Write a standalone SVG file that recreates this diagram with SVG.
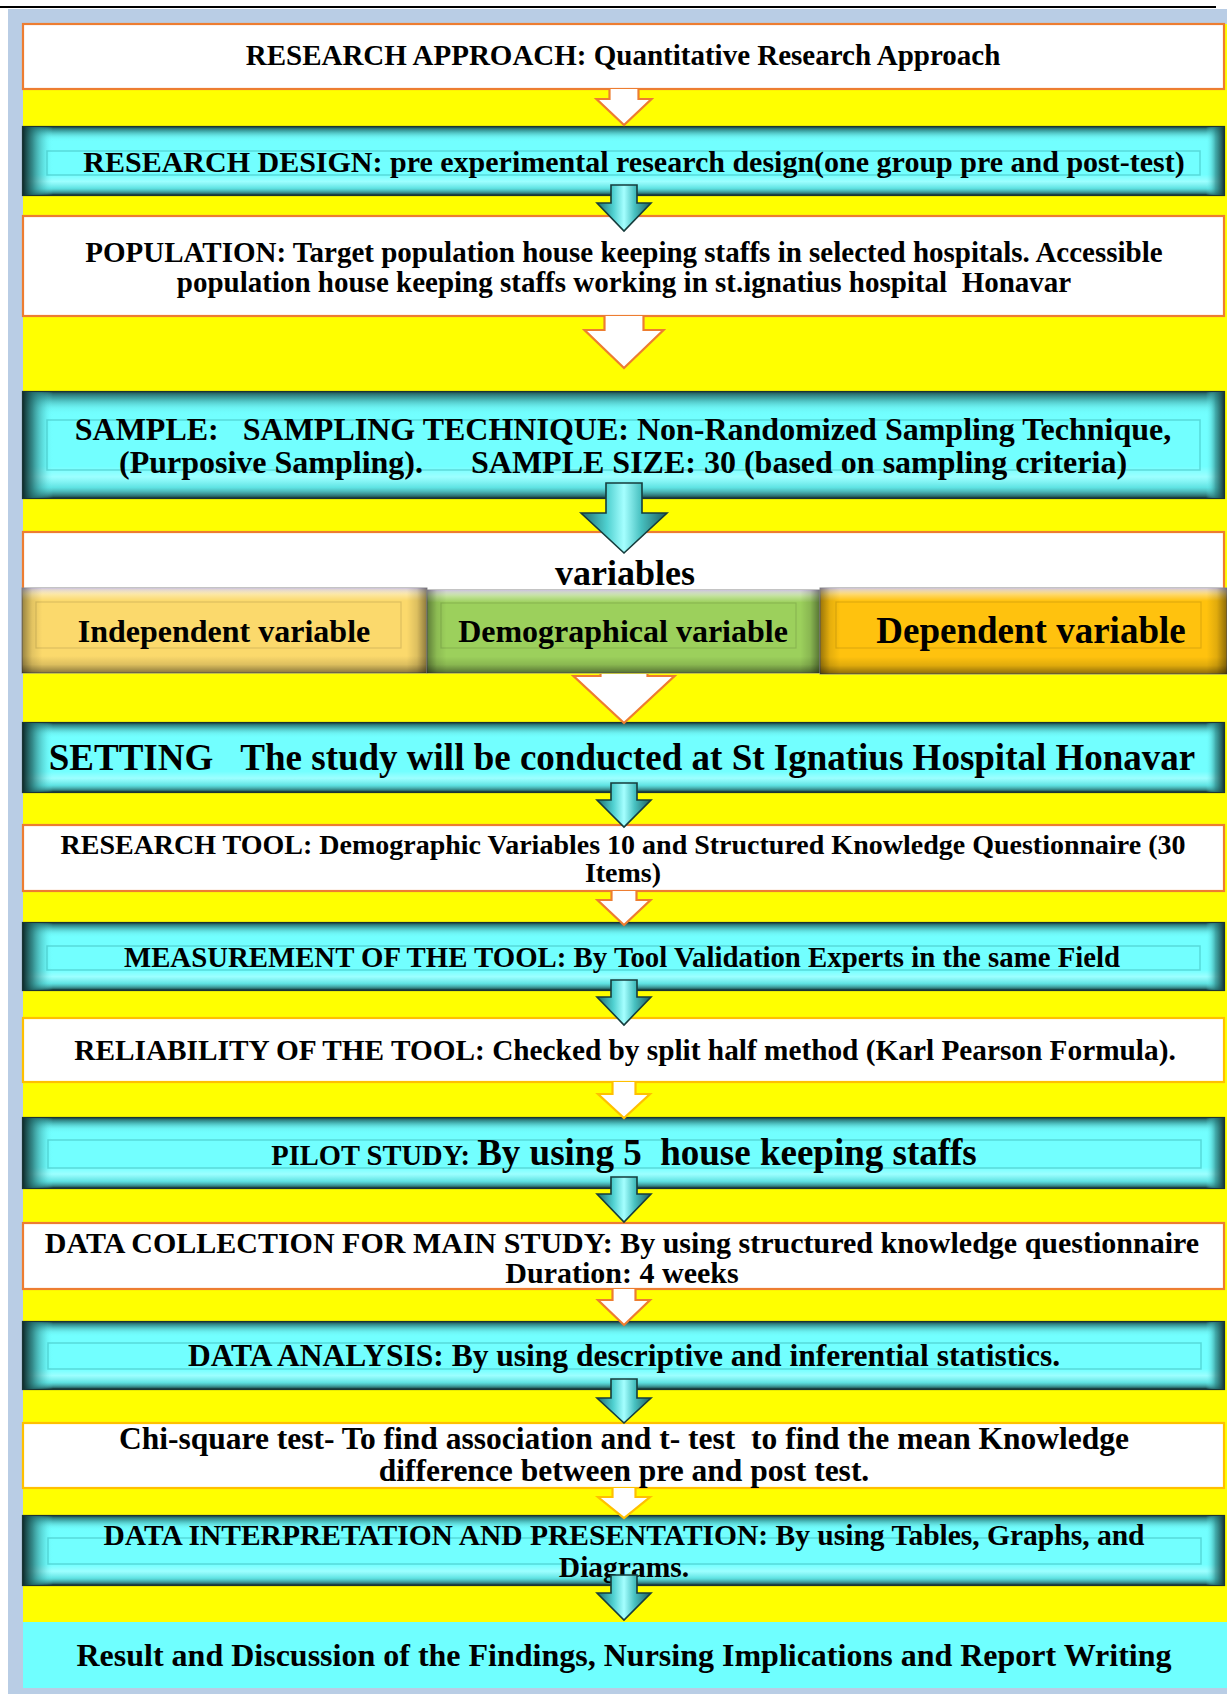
<svg xmlns="http://www.w3.org/2000/svg" width="1227" height="1694" viewBox="0 0 1227 1694">
<style>
.t{font-family:"Liberation Serif","Times New Roman",serif;font-weight:bold;fill:#000;text-anchor:middle}
.wb{fill:#fff;stroke:#ED7D31;stroke-width:2.2}
.wg{fill:#fff;stroke:#FFC000;stroke-width:2.2}
.cy{fill:#72FFFF;stroke:#1b3434;stroke-width:2.2}
.cyv{fill:url(#cyV)}
.cyh{fill:url(#cyH)}
.cyi{fill:none;stroke:#3fbcbc;stroke-opacity:.55;stroke-width:1.5}
.bvv{fill:url(#bvV)}
.bvh{fill:url(#bvH)}
.bvi{fill:none;stroke:#000;stroke-opacity:.12;stroke-width:1.2}
.ca{fill:url(#arG);stroke:#163c3c;stroke-width:1.6;stroke-linejoin:miter}
.wa{fill:#fff;stroke:#ED7D31;stroke-width:2.2;stroke-linejoin:miter}
.wag{fill:#fff;stroke:#FFC000;stroke-width:2.2;stroke-linejoin:miter}
</style>
<defs>
<linearGradient id="cyV" x1="0" y1="0" x2="0" y2="1">
<stop offset="0" stop-color="#1d4f4f" stop-opacity="0.95"/>
<stop offset="0.06" stop-color="#2f8a8a" stop-opacity="0.75"/>
<stop offset="0.15" stop-color="#5fd6d6" stop-opacity="0.3"/>
<stop offset="0.22" stop-color="#70ffff" stop-opacity="0"/>
<stop offset="0.7" stop-color="#ffffff" stop-opacity="0"/>
<stop offset="0.8" stop-color="#ffffff" stop-opacity="0.3"/>
<stop offset="0.9" stop-color="#3fb0b0" stop-opacity="0.35"/>
<stop offset="1" stop-color="#173c3c" stop-opacity="0.95"/>
</linearGradient>
<linearGradient id="cyH" x1="0" y1="0" x2="1" y2="0">
<stop offset="0" stop-color="#102e2e" stop-opacity="1"/>
<stop offset="0.008" stop-color="#256f6f" stop-opacity="0.8"/>
<stop offset="0.018" stop-color="#3fb0b0" stop-opacity="0.3"/>
<stop offset="0.025" stop-color="#70ffff" stop-opacity="0"/>
<stop offset="0.985" stop-color="#70ffff" stop-opacity="0"/>
<stop offset="0.993" stop-color="#2d8585" stop-opacity="0.7"/>
<stop offset="1" stop-color="#183c3c" stop-opacity="1"/>
</linearGradient>
<linearGradient id="bvV" x1="0" y1="0" x2="0" y2="1">
<stop offset="0" stop-color="#cfc6e0" stop-opacity="0.95"/>
<stop offset="0.08" stop-color="#ffffff" stop-opacity="0.35"/>
<stop offset="0.15" stop-color="#ffffff" stop-opacity="0"/>
<stop offset="0.8" stop-color="#000000" stop-opacity="0"/>
<stop offset="0.9" stop-color="#000000" stop-opacity="0.12"/>
<stop offset="1" stop-color="#000000" stop-opacity="0.45"/>
</linearGradient>
<linearGradient id="bvH" x1="0" y1="0" x2="1" y2="0">
<stop offset="0" stop-color="#000000" stop-opacity="0.4"/>
<stop offset="0.025" stop-color="#000000" stop-opacity="0.1"/>
<stop offset="0.05" stop-color="#000000" stop-opacity="0"/>
<stop offset="0.95" stop-color="#000000" stop-opacity="0"/>
<stop offset="0.975" stop-color="#000000" stop-opacity="0.12"/>
<stop offset="1" stop-color="#000000" stop-opacity="0.45"/>
</linearGradient>
<linearGradient id="arG" x1="0" y1="0" x2="1" y2="0">
<stop offset="0" stop-color="#1d6b6b"/>
<stop offset="0.3" stop-color="#4fd0d0"/>
<stop offset="0.5" stop-color="#a5ffff"/>
<stop offset="0.7" stop-color="#47c0c0"/>
<stop offset="1" stop-color="#1d5c5c"/>
</linearGradient>
</defs>

<rect x="8" y="9" width="1219" height="1685" fill="#B9CDE5"/>
<line x1="0" y1="7" x2="1216" y2="7" stroke="#000" stroke-width="2"/>
<rect x="23" y="24" width="1204" height="1598" fill="#FFFF00"/>

<g id="approach">
<rect class="wb" x="23" y="24" width="1201" height="65"/>
<text class="t" x="623" y="65" font-size="29">RESEARCH APPROACH: Quantitative Research Approach</text>
</g>

<g id="design">
<rect class="cy" x="23" y="127" width="1201" height="68"/>
<rect class="cyv" x="23" y="127" width="1201" height="68"/>
<rect class="cyh" x="23" y="127" width="1201" height="68"/>
<rect class="cyi" x="47" y="151" width="1153" height="24"/>
<text class="t" x="634" y="172" font-size="30">RESEARCH DESIGN: pre experimental research design(one group pre and post-test)</text>
</g>

<g id="population">
<rect class="wb" x="23" y="216" width="1201" height="100"/>
<text class="t" x="624" y="262" font-size="29">POPULATION: Target population house keeping staffs in selected hospitals. Accessible</text>
<text class="t" x="624" y="292" font-size="29" xml:space="preserve">population house keeping staffs working in st.ignatius hospital  Honavar</text>
</g>

<g id="sample">
<rect class="cy" x="23" y="392" width="1201" height="106"/>
<rect class="cyv" x="23" y="392" width="1201" height="106"/>
<rect class="cyh" x="23" y="392" width="1201" height="106"/>
<rect class="cyi" x="47" y="420" width="1153" height="50"/>
<text class="t" x="623" y="440" font-size="32" xml:space="preserve">SAMPLE:   SAMPLING TECHNIQUE: Non-Randomized Sampling Technique,</text>
<text class="t" x="623" y="473" font-size="32" xml:space="preserve">(Purposive Sampling).      SAMPLE SIZE: 30 (based on sampling criteria)</text>
</g>

<g id="variables">
<rect class="wb" x="23" y="532" width="1201" height="136"/>
<text class="t" x="625" y="585" font-size="36">variables</text>
</g>

<g id="independent">
<rect x="22" y="588" width="405" height="85" fill="#FBD96C" stroke="#8a8a8a" stroke-width="1"/>
<rect class="bvv" x="22" y="588" width="405" height="85"/>
<rect class="bvh" x="22" y="588" width="405" height="85"/>
<rect class="bvi" x="36" y="602" width="365" height="46"/>
<text class="t" x="224" y="642" font-size="32">Independent variable</text>
</g>

<g id="demographical">
<rect x="427" y="590" width="393" height="83" fill="#9CD05C" stroke="#8a8a8a" stroke-width="1"/>
<rect class="bvv" x="427" y="590" width="393" height="83"/>
<rect class="bvh" x="427" y="590" width="393" height="83"/>
<rect class="bvi" x="441" y="603" width="355" height="45"/>
<text class="t" x="623" y="642" font-size="32">Demographical variable</text>
</g>

<g id="dependent">
<rect x="820" y="588" width="407" height="86" fill="#FFC20E" stroke="#8a8a8a" stroke-width="1"/>
<rect class="bvv" x="820" y="588" width="407" height="86"/>
<rect class="bvh" x="820" y="588" width="407" height="86"/>
<rect class="bvi" x="836" y="602" width="365" height="46"/>
<text class="t" x="1031" y="643" font-size="37">Dependent variable</text>
</g>

<g id="setting">
<rect class="cy" x="23" y="723" width="1201" height="69"/>
<rect class="cyv" x="23" y="723" width="1201" height="69"/>
<rect class="cyh" x="23" y="723" width="1201" height="69"/>
<text class="t" x="622" y="770" font-size="37" xml:space="preserve">SETTING   The study will be conducted at St Ignatius Hospital Honavar</text>
</g>

<g id="tool">
<rect class="wb" x="23" y="825" width="1201" height="66"/>
<text class="t" x="623" y="854" font-size="28">RESEARCH TOOL: Demographic Variables 10 and Structured Knowledge Questionnaire (30</text>
<text class="t" x="623" y="882" font-size="28">Items)</text>
</g>

<g id="measurement">
<rect class="cy" x="23" y="923" width="1201" height="67"/>
<rect class="cyv" x="23" y="923" width="1201" height="67"/>
<rect class="cyh" x="23" y="923" width="1201" height="67"/>
<rect class="cyi" x="47" y="946" width="1153" height="24"/>
<text class="t" x="622" y="967" font-size="28.8">MEASUREMENT OF THE TOOL: By Tool Validation Experts in the same Field</text>
</g>

<g id="reliability">
<rect class="wg" x="23" y="1018" width="1201" height="64"/>
<text class="t" x="625" y="1060" font-size="29.3">RELIABILITY OF THE TOOL: Checked by split half method (Karl Pearson Formula).</text>
</g>

<g id="pilot">
<rect class="cy" x="23" y="1118" width="1201" height="70"/>
<rect class="cyv" x="23" y="1118" width="1201" height="70"/>
<rect class="cyh" x="23" y="1118" width="1201" height="70"/>
<rect class="cyi" x="48" y="1140" width="1153" height="28"/>
<text class="t" x="624" y="1165" xml:space="preserve"><tspan font-size="28.5">PILOT STUDY: </tspan><tspan font-size="37">By using 5  house keeping staffs</tspan></text>
</g>

<g id="datacollection">
<rect class="wb" x="23" y="1223" width="1201" height="66"/>
<text class="t" x="622" y="1253" font-size="30">DATA COLLECTION FOR MAIN STUDY: By using structured knowledge questionnaire</text>
<text class="t" x="622" y="1283" font-size="30">Duration: 4 weeks</text>
</g>

<g id="analysis">
<rect class="cy" x="23" y="1322" width="1201" height="67"/>
<rect class="cyv" x="23" y="1322" width="1201" height="67"/>
<rect class="cyh" x="23" y="1322" width="1201" height="67"/>
<rect class="cyi" x="48" y="1343" width="1153" height="26"/>
<text class="t" x="624" y="1366" font-size="31.5">DATA ANALYSIS: By using descriptive and inferential statistics.</text>
</g>

<g id="chisquare">
<rect class="wg" x="23" y="1423" width="1201" height="65"/>
<text class="t" x="624" y="1449" font-size="31.5" xml:space="preserve">Chi-square test- To find association and t- test  to find the mean Knowledge</text>
<text class="t" x="624" y="1481" font-size="31.5">difference between pre and post test.</text>
</g>

<g id="interpretation">
<rect class="cy" x="23" y="1516" width="1201" height="69"/>
<rect class="cyv" x="23" y="1516" width="1201" height="69"/>
<rect class="cyh" x="23" y="1516" width="1201" height="69"/>
<rect class="cyi" x="48" y="1538" width="1153" height="26"/>
<text class="t" x="624" y="1545" font-size="29.5">DATA INTERPRETATION AND PRESENTATION: By using Tables, Graphs, and</text>
<text class="t" x="624" y="1577" font-size="29.5">Diagrams.</text>
</g>

<g id="result">
<rect x="23" y="1622" width="1204" height="66" fill="#6FFFFF"/>
<text class="t" x="624" y="1666" font-size="32">Result and Discussion of the Findings, Nursing Implications and Report Writing</text>
</g>

<g id="connectors">
<path class="wa" d="M609.5,89 L609.5,99 L596.5,99 L624,125 L651.5,99 L638.5,99 L638.5,89"/>
<polygon class="ca" points="611,185 637,185 637,203 651,203 624,231 597,203 611,203"/>
<path class="wa" d="M604.5,316 L604.5,330 L584.5,330 L624,368 L663.5,330 L643.5,330 L643.5,316"/>
<polygon class="ca" points="606,483 642,483 642,513 667,513 624,553 581,513 606,513"/>
<path class="wa" d="M600.5,674 L600.5,676 L573.5,676 L624,723 L674.5,676 L647.5,676 L647.5,674"/>
<polygon class="ca" points="611,783 637,783 637,800 651,800 624,827 597,800 611,800"/>
<path class="wa" d="M611.5,891 L611.5,900 L597.5,900 L624,925 L650.5,900 L636.5,900 L636.5,891"/>
<polygon class="ca" points="611,980 637,980 637,997 651,997 624,1025 597,997 611,997"/>
<path class="wag" d="M612.5,1082 L612.5,1094 L598,1094 L624,1118 L650,1094 L635.5,1094 L635.5,1082"/>
<polygon class="ca" points="611,1177 637,1177 637,1194 651,1194 624,1222 597,1194 611,1194"/>
<path class="wa" d="M612.5,1289 L612.5,1300 L598,1300 L624,1325 L650,1300 L635.5,1300 L635.5,1289"/>
<polygon class="ca" points="611,1379 637,1379 637,1398 651,1398 624,1423 597,1398 611,1398"/>
<path class="wag" d="M612.5,1488 L612.5,1497 L598,1497 L624,1518 L650,1497 L635.5,1497 L635.5,1488"/>
<polygon class="ca" points="611,1575 637,1575 637,1593 651,1593 624,1620 597,1593 611,1593"/>
</g>
</svg>
